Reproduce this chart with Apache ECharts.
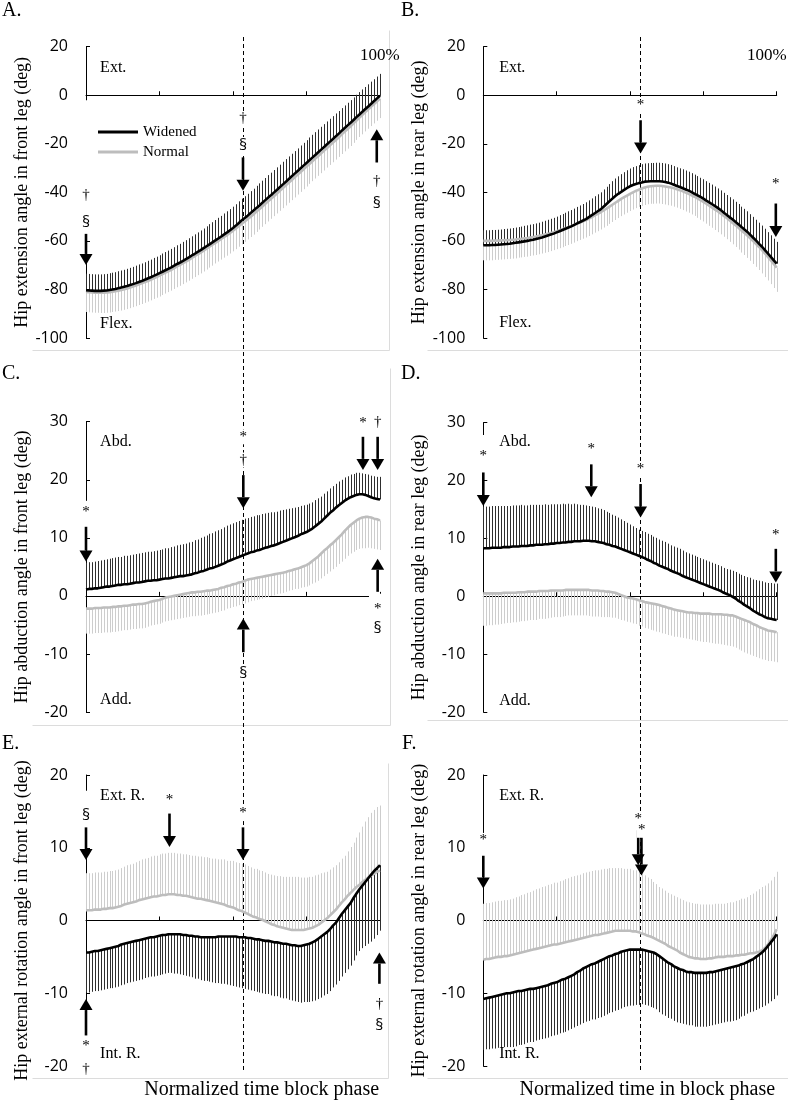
<!DOCTYPE html>
<html><head><meta charset="utf-8">
<script src="https://cdn.jsdelivr.net/npm/echarts@6/dist/echarts.min.js"></script>
<style>html,body{margin:0;padding:0;background:#fff}#c{width:788px;height:1101px}</style>
</head><body><div id="c"></div>
<script>
// ---------- DATA (normalized time 0..100 %, one value per 1 %) ----------
const phasePct = Array.from({length: 101}, (_, i) => i);
const legendNames = ['Widened', 'Normal'];
const panelLetters = ['A.', 'B.', 'C.', 'D.', 'E.', 'F.'];
const yNames = [
  'Hip extension angle in front leg (deg)',
  'Hip extension angle in rear leg (deg)',
  'Hip abduction angle in front leg (deg)',
  'Hip abduction angle in rear leg (deg)',
  'Hip external rotation angle in front leg (deg)',
  'Hip external rotation angle in rear leg (deg)'
];
const xTitles = ['Normalized time block phase', 'Normalized time in block phase'];

// A. hip extension, front leg
const A_widened = [-80.3,-80.4,-80.5,-80.6,-80.6,-80.6,-80.5,-80.4,-80.2,-80.0,
 -79.8,-79.5,-79.2,-78.9,-78.6,-78.2,-77.8,-77.4,-76.9,-76.5,
 -76.0,-75.5,-75.0,-74.4,-73.9,-73.3,-72.7,-72.1,-71.5,-70.9,
 -70.2,-69.5,-68.9,-68.2,-67.5,-66.8,-66.0,-65.3,-64.5,-63.8,
 -63.0,-62.2,-61.4,-60.6,-59.8,-59.0,-58.2,-57.3,-56.5,-55.6,
 -54.7,-53.7,-52.6,-51.5,-50.6,-49.6,-48.5,-47.5,-46.4,-45.4,
 -44.3,-43.2,-42.1,-41.1,-40.0,-38.9,-37.8,-36.7,-35.6,-34.5,
 -33.4,-32.3,-31.2,-30.1,-29.0,-27.9,-26.8,-25.7,-24.6,-23.5,
 -22.4,-21.3,-20.2,-19.1,-18.0,-16.9,-15.8,-14.6,-13.5,-12.4,
 -11.3,-10.2,-9.0,-7.9,-6.8,-5.7,-4.6,-3.5,-2.4,-1.3,
 -0.2];
const A_normal = [-81.0,-81.1,-81.2,-81.3,-81.3,-81.3,-81.3,-81.2,-81.1,-80.9,
 -80.7,-80.5,-80.2,-79.9,-79.6,-79.2,-78.8,-78.4,-77.9,-77.5,
 -77.0,-76.5,-76.0,-75.4,-74.9,-74.3,-73.7,-73.1,-72.5,-71.9,
 -71.2,-70.5,-69.9,-69.2,-68.5,-67.8,-67.0,-66.3,-65.5,-64.8,
 -64.0,-63.2,-62.4,-61.6,-60.8,-60.0,-59.2,-58.4,-57.6,-56.7,
 -55.8,-54.9,-53.9,-52.9,-52.0,-51.0,-50.0,-49.0,-47.9,-46.9,
 -45.8,-44.7,-43.6,-42.6,-41.5,-40.4,-39.3,-38.2,-37.1,-36.0,
 -34.9,-33.8,-32.7,-31.6,-30.5,-29.4,-28.3,-27.2,-26.1,-25.0,
 -23.9,-22.8,-21.7,-20.6,-19.5,-18.4,-17.3,-16.1,-15.0,-13.9,
 -12.8,-11.6,-10.4,-9.2,-8.1,-6.9,-5.8,-4.7,-3.6,-2.5,
 -1.4];
const A_widenedSD = [6.8,6.8,6.8,6.8,6.8,6.8,6.8,6.8,6.9,6.9,
 6.9,7.0,7.0,7.0,7.1,7.1,7.1,7.2,7.2,7.2,
 7.2,7.3,7.3,7.4,7.4,7.4,7.5,7.5,7.5,7.6,
 7.6,7.7,7.7,7.8,7.8,7.9,7.9,8.0,8.0,8.1,
 8.1,8.2,8.3,8.3,8.4,8.5,8.5,8.6,8.7,8.7,
 8.8,8.8,8.9,8.9,9.0,9.0,9.0,9.0,9.1,9.1,
 9.1,9.1,9.2,9.2,9.2,9.2,9.2,9.3,9.3,9.3,
 9.3,9.3,9.3,9.4,9.4,9.4,9.4,9.4,9.4,9.4,
 9.4,9.4,9.4,9.4,9.4,9.4,9.3,9.3,9.3,9.3,
 9.3,9.3,9.2,9.2,9.2,9.1,9.1,9.1,9.0,9.0,
 9.0];
const A_normalSD = [8.3,8.3,8.3,8.3,8.3,8.4,8.4,8.4,8.4,8.4,
 8.4,8.4,8.5,8.5,8.5,8.5,8.5,8.5,8.5,8.5,
 8.5,8.5,8.5,8.5,8.5,8.6,8.6,8.6,8.6,8.6,
 8.6,8.6,8.6,8.6,8.6,8.6,8.6,8.6,8.6,8.6,
 8.6,8.6,8.6,8.6,8.5,8.5,8.5,8.5,8.5,8.5,
 8.5,8.5,8.5,8.5,8.4,8.4,8.4,8.4,8.4,8.4,
 8.4,8.4,8.4,8.3,8.3,8.3,8.3,8.3,8.3,8.3,
 8.3,8.3,8.2,8.2,8.2,8.2,8.2,8.2,8.2,8.2,
 8.2,8.2,8.1,8.1,8.1,8.1,8.1,8.1,8.1,8.1,
 8.1,8.0,8.0,8.0,8.0,8.0,8.0,8.0,8.0,8.0,
 8.0];

// B. hip extension, rear leg
const B_widened = [-61.8,-61.8,-61.8,-61.7,-61.7,-61.6,-61.5,-61.4,-61.3,-61.2,
 -61.0,-60.8,-60.6,-60.4,-60.2,-60.0,-59.7,-59.5,-59.2,-58.9,
 -58.6,-58.2,-57.8,-57.4,-57.0,-56.5,-56.0,-55.5,-55.0,-54.5,
 -54.0,-53.4,-52.8,-52.2,-51.6,-51.0,-50.2,-49.4,-48.6,-47.8,
 -47.0,-45.9,-44.8,-43.7,-42.6,-41.5,-40.6,-39.8,-39.0,-38.2,
 -37.5,-37.0,-36.6,-36.2,-35.9,-35.6,-35.5,-35.4,-35.4,-35.4,
 -35.4,-35.5,-35.7,-36.0,-36.4,-36.9,-37.4,-37.8,-38.3,-38.8,
 -39.3,-39.9,-40.6,-41.2,-41.9,-42.6,-43.4,-44.1,-44.9,-45.7,
 -46.5,-47.4,-48.4,-49.3,-50.3,-51.2,-52.2,-53.2,-54.3,-55.3,
 -56.3,-57.5,-58.7,-59.9,-61.2,-62.4,-63.8,-65.2,-66.6,-68.0,
 -69.4];
const B_normal = [-60.0,-60.0,-60.0,-60.0,-59.9,-59.9,-59.8,-59.7,-59.7,-59.6,
 -59.5,-59.4,-59.2,-59.1,-58.9,-58.8,-58.6,-58.4,-58.2,-57.9,
 -57.7,-57.4,-57.1,-56.7,-56.4,-56.0,-55.6,-55.2,-54.8,-54.4,
 -53.9,-53.4,-52.9,-52.4,-51.9,-51.4,-50.8,-50.2,-49.5,-48.9,
 -48.2,-47.4,-46.7,-45.9,-45.1,-44.3,-43.5,-42.7,-42.0,-41.3,
 -40.6,-40.0,-39.4,-38.9,-38.4,-38.0,-37.7,-37.5,-37.4,-37.3,
 -37.3,-37.4,-37.6,-37.8,-38.0,-38.3,-38.7,-39.1,-39.6,-40.1,
 -40.6,-41.2,-41.8,-42.5,-43.2,-43.9,-44.7,-45.5,-46.3,-47.1,
 -47.9,-48.8,-49.7,-50.6,-51.6,-52.6,-53.6,-54.6,-55.7,-56.7,
 -57.8,-58.9,-60.1,-61.3,-62.5,-63.8,-65.2,-66.6,-68.0,-69.5,
 -71.0];
const B_widenedSD = [6.2,6.2,6.2,6.2,6.2,6.2,6.2,6.3,6.3,6.3,
 6.3,6.3,6.3,6.3,6.4,6.4,6.4,6.4,6.4,6.4,
 6.5,6.5,6.5,6.5,6.5,6.5,6.6,6.6,6.6,6.7,
 6.7,6.7,6.8,6.8,6.8,6.9,6.9,6.9,7.0,7.0,
 7.0,7.1,7.1,7.1,7.2,7.2,7.2,7.3,7.3,7.3,
 7.3,7.4,7.4,7.4,7.5,7.5,7.5,7.5,7.5,7.6,
 7.6,7.6,7.6,7.6,7.7,7.7,7.7,7.7,7.8,7.8,
 7.8,7.8,7.9,7.9,7.9,8.0,8.0,8.0,8.1,8.1,
 8.1,8.2,8.2,8.2,8.3,8.3,8.3,8.4,8.4,8.5,
 8.5,8.5,8.6,8.6,8.7,8.7,8.8,8.8,8.9,8.9,
 9.0];
const B_normalSD = [8.0,8.0,8.0,8.0,7.9,7.9,7.9,7.9,7.8,7.8,
 7.8,7.8,7.7,7.7,7.7,7.7,7.6,7.6,7.6,7.6,
 7.5,7.5,7.5,7.5,7.4,7.4,7.4,7.4,7.3,7.3,
 7.3,7.3,7.2,7.2,7.2,7.2,7.2,7.1,7.1,7.1,
 7.1,7.1,7.1,7.1,7.1,7.1,7.1,7.1,7.1,7.1,
 7.1,7.1,7.1,7.1,7.2,7.2,7.2,7.2,7.3,7.3,
 7.3,7.4,7.4,7.5,7.5,7.6,7.6,7.7,7.7,7.8,
 7.8,7.9,7.9,8.0,8.1,8.1,8.2,8.3,8.3,8.4,
 8.5,8.5,8.6,8.7,8.8,8.8,8.9,9.0,9.1,9.1,
 9.2,9.3,9.4,9.4,9.5,9.6,9.7,9.7,9.8,9.9,
 10.0];

// C. hip abduction, front leg
const C_widened = [1.1,1.2,1.2,1.3,1.3,1.4,1.5,1.6,1.6,1.7,
 1.8,1.9,1.9,2.0,2.0,2.1,2.2,2.3,2.3,2.4,
 2.5,2.6,2.6,2.7,2.7,2.8,2.9,3.0,3.0,3.1,
 3.2,3.3,3.4,3.4,3.5,3.6,3.7,3.9,4.0,4.2,
 4.3,4.5,4.7,4.8,5.0,5.2,5.4,5.6,5.9,6.1,
 6.3,6.5,6.7,6.9,7.1,7.3,7.5,7.6,7.8,7.9,
 8.1,8.3,8.4,8.6,8.7,8.9,9.1,9.3,9.5,9.7,
 9.9,10.1,10.3,10.6,10.8,11.0,11.3,11.6,12.0,12.4,
 12.8,13.3,13.8,14.3,14.7,15.2,15.6,16.0,16.4,16.7,
 17.0,17.2,17.4,17.5,17.5,17.4,17.2,17.0,16.8,16.7,
 16.6];
const C_normal = [-2.2,-2.2,-2.2,-2.1,-2.1,-2.1,-2.0,-2.0,-2.0,-1.9,
 -1.9,-1.8,-1.8,-1.7,-1.7,-1.6,-1.5,-1.5,-1.4,-1.4,
 -1.3,-1.2,-1.0,-0.9,-0.8,-0.7,-0.5,-0.3,-0.2,-0.1,
 0.0,0.1,0.2,0.3,0.4,0.5,0.6,0.6,0.7,0.7,
 0.8,0.9,0.9,1.0,1.1,1.2,1.4,1.5,1.7,1.8,
 2.0,2.1,2.3,2.4,2.6,2.8,2.9,3.0,3.1,3.2,
 3.3,3.4,3.5,3.6,3.7,3.8,3.9,4.0,4.1,4.3,
 4.4,4.6,4.7,4.9,5.1,5.3,5.6,6.0,6.4,6.8,
 7.3,7.8,8.2,8.7,9.1,9.6,10.1,10.6,11.2,11.7,
 12.2,12.6,13.0,13.3,13.5,13.6,13.6,13.5,13.3,13.2,
 13.0];
const C_widenedSD = [4.6,4.6,4.6,4.6,4.7,4.7,4.7,4.7,4.8,4.8,
 4.8,4.8,4.8,4.9,4.9,4.9,4.9,4.9,5.0,5.0,
 5.0,5.0,5.0,5.0,5.1,5.1,5.1,5.2,5.2,5.3,
 5.3,5.4,5.4,5.5,5.5,5.6,5.6,5.7,5.7,5.8,
 5.9,5.9,6.0,6.0,6.1,6.1,6.1,6.2,6.2,6.2,
 6.2,6.2,6.2,6.2,6.2,6.1,6.1,6.1,6.1,6.0,
 6.0,5.9,5.9,5.8,5.7,5.6,5.6,5.5,5.4,5.3,
 5.2,5.1,5.0,4.9,4.8,4.7,4.6,4.5,4.5,4.4,
 4.3,4.3,4.2,4.2,4.2,4.1,4.1,4.0,4.0,3.9,
 3.9,3.8,3.8,3.7,3.6,3.6,3.7,3.7,3.8,3.8,
 3.9];
const C_normalSD = [4.3,4.3,4.3,4.3,4.3,4.3,4.3,4.3,4.3,4.3,
 4.3,4.3,4.2,4.2,4.2,4.2,4.2,4.2,4.2,4.2,
 4.2,4.1,4.1,4.1,4.1,4.1,4.1,4.1,4.1,4.1,
 4.1,4.1,4.1,4.1,4.1,4.1,4.1,4.1,4.1,4.1,
 4.1,4.1,4.0,4.0,4.0,4.0,4.0,4.0,3.9,3.9,
 3.9,3.9,3.9,3.9,3.9,3.9,3.8,3.8,3.8,3.8,
 3.8,3.7,3.7,3.6,3.6,3.5,3.5,3.5,3.4,3.4,
 3.4,3.4,3.5,3.5,3.6,3.7,3.8,3.9,4.1,4.2,
 4.3,4.4,4.4,4.5,4.5,4.6,4.6,4.7,4.8,4.8,
 4.9,5.0,5.1,5.2,5.3,5.4,5.3,5.3,5.2,5.2,
 5.1];

// D. hip abduction, rear leg
const D_widened = [8.3,8.3,8.3,8.4,8.4,8.4,8.4,8.5,8.5,8.5,
 8.6,8.6,8.6,8.7,8.7,8.7,8.8,8.8,8.9,8.9,
 8.9,9.0,9.0,9.1,9.1,9.2,9.2,9.3,9.3,9.4,
 9.4,9.5,9.5,9.5,9.6,9.6,9.6,9.5,9.5,9.4,
 9.3,9.2,9.0,8.9,8.7,8.6,8.4,8.2,8.0,7.8,
 7.6,7.4,7.2,7.0,6.8,6.6,6.3,6.1,5.8,5.6,
 5.3,5.1,4.9,4.7,4.4,4.2,4.0,3.8,3.5,3.3,
 3.1,2.9,2.7,2.5,2.3,2.1,1.9,1.7,1.5,1.3,
 1.1,0.9,0.6,0.4,0.2,-0.1,-0.4,-0.8,-1.1,-1.5,
 -1.8,-2.1,-2.5,-2.8,-3.1,-3.3,-3.6,-3.8,-3.9,-4.0,
 -4.1];
const D_normal = [0.5,0.5,0.5,0.5,0.5,0.5,0.5,0.6,0.6,0.6,
 0.6,0.6,0.7,0.7,0.7,0.8,0.8,0.8,0.8,0.9,
 0.9,0.9,0.9,1.0,1.0,1.0,1.0,1.0,1.1,1.1,
 1.1,1.1,1.1,1.1,1.1,1.1,1.1,1.0,1.0,1.0,
 0.9,0.9,0.8,0.8,0.7,0.6,0.4,0.2,0.0,-0.2,
 -0.3,-0.4,-0.5,-0.7,-0.8,-1.0,-1.1,-1.2,-1.3,-1.4,
 -1.5,-1.7,-1.8,-2.0,-2.1,-2.3,-2.4,-2.5,-2.6,-2.7,
 -2.8,-2.8,-2.9,-2.9,-3.0,-3.0,-3.0,-3.0,-3.1,-3.1,
 -3.1,-3.1,-3.2,-3.2,-3.3,-3.3,-3.5,-3.7,-3.9,-4.1,
 -4.3,-4.5,-4.8,-5.0,-5.3,-5.5,-5.7,-5.9,-6.0,-6.1,
 -6.2];
const D_widenedSD = [7.2,7.2,7.2,7.2,7.2,7.2,7.2,7.1,7.1,7.1,
 7.1,7.1,7.1,7.1,7.0,7.0,7.0,7.0,6.9,6.9,
 6.9,6.9,6.8,6.8,6.8,6.7,6.7,6.7,6.6,6.6,
 6.5,6.5,6.4,6.3,6.2,6.1,6.0,6.0,5.9,5.8,
 5.8,5.7,5.6,5.5,5.4,5.3,5.2,5.1,5.0,4.9,
 4.8,4.7,4.6,4.5,4.5,4.5,4.5,4.5,4.5,4.5,
 4.5,4.5,4.5,4.4,4.4,4.4,4.4,4.4,4.4,4.3,
 4.3,4.3,4.3,4.3,4.3,4.3,4.3,4.3,4.3,4.3,
 4.3,4.3,4.3,4.3,4.4,4.5,4.6,4.7,4.8,5.0,
 5.1,5.3,5.4,5.6,5.8,5.9,6.0,6.1,6.2,6.2,
 6.3];
const D_normalSD = [5.6,5.6,5.5,5.5,5.4,5.4,5.3,5.3,5.2,5.2,
 5.1,5.1,5.1,5.0,5.0,5.0,4.9,4.9,4.9,4.8,
 4.8,4.8,4.7,4.7,4.6,4.6,4.6,4.5,4.5,4.4,
 4.4,4.4,4.4,4.4,4.4,4.4,4.5,4.5,4.5,4.5,
 4.5,4.5,4.4,4.4,4.4,4.3,4.3,4.3,4.2,4.2,
 4.2,4.3,4.3,4.4,4.4,4.5,4.5,4.6,4.6,4.7,
 4.7,4.7,4.7,4.7,4.7,4.7,4.6,4.6,4.6,4.6,
 4.6,4.7,4.7,4.8,4.8,4.9,4.9,5.0,5.0,5.1,
 5.1,5.2,5.2,5.3,5.3,5.4,5.4,5.5,5.5,5.6,
 5.6,5.6,5.5,5.5,5.4,5.4,5.3,5.3,5.2,5.2,
 5.2];

// E. hip external rotation, front leg
const E_widened = [-4.4,-4.4,-4.3,-4.2,-4.2,-4.1,-4.0,-3.9,-3.8,-3.7,
 -3.6,-3.5,-3.3,-3.2,-3.1,-3.0,-2.9,-2.8,-2.7,-2.6,
 -2.5,-2.4,-2.3,-2.3,-2.2,-2.1,-2.0,-2.0,-1.9,-1.9,
 -1.9,-1.9,-1.9,-2.0,-2.0,-2.1,-2.1,-2.2,-2.2,-2.3,
 -2.3,-2.3,-2.3,-2.3,-2.3,-2.2,-2.2,-2.2,-2.2,-2.2,
 -2.2,-2.2,-2.3,-2.3,-2.3,-2.4,-2.4,-2.5,-2.6,-2.6,
 -2.7,-2.8,-2.8,-2.9,-3.0,-3.0,-3.1,-3.2,-3.2,-3.3,
 -3.4,-3.4,-3.5,-3.5,-3.4,-3.3,-3.2,-3.0,-2.8,-2.5,
 -2.2,-1.9,-1.6,-1.2,-0.7,-0.3,0.3,0.9,1.4,1.9,
 2.4,3.1,3.7,4.3,4.8,5.3,5.8,6.3,6.8,7.2,
 7.6];
const E_normal = [1.4,1.4,1.4,1.5,1.5,1.5,1.6,1.6,1.7,1.7,
 1.8,1.9,2.0,2.2,2.3,2.4,2.5,2.6,2.8,2.9,
 3.0,3.1,3.2,3.3,3.3,3.4,3.5,3.5,3.6,3.6,
 3.6,3.5,3.5,3.4,3.4,3.3,3.2,3.1,3.0,3.0,
 2.9,2.8,2.7,2.6,2.5,2.4,2.3,2.2,2.0,1.9,
 1.8,1.6,1.4,1.3,1.1,0.9,0.7,0.5,0.4,0.2,
 0.1,-0.1,-0.3,-0.5,-0.6,-0.8,-0.9,-1.0,-1.1,-1.2,
 -1.3,-1.3,-1.3,-1.3,-1.3,-1.2,-1.1,-1.0,-0.8,-0.6,
 -0.3,0.0,0.3,0.7,1.1,1.5,2.0,2.5,2.9,3.4,
 3.8,4.2,4.6,4.9,5.3,5.6,5.9,6.2,6.4,6.7,
 6.9];
const E_widenedSD = [5.5,5.5,5.5,5.5,5.5,5.5,5.5,5.5,5.5,5.6,
 5.6,5.6,5.6,5.6,5.5,5.5,5.5,5.5,5.5,5.5,
 5.4,5.4,5.4,5.4,5.4,5.4,5.4,5.3,5.3,5.3,
 5.4,5.4,5.5,5.5,5.6,5.6,5.7,5.8,5.8,5.9,
 6.0,6.0,6.1,6.2,6.3,6.4,6.5,6.5,6.6,6.7,
 6.8,6.9,6.9,7.0,7.1,7.1,7.2,7.2,7.2,7.3,
 7.3,7.3,7.3,7.4,7.4,7.4,7.5,7.5,7.5,7.6,
 7.6,7.7,7.7,7.8,7.8,7.9,8.0,8.1,8.2,8.3,
 8.4,8.4,8.5,8.5,8.5,8.5,8.6,8.6,8.6,8.6,
 8.6,8.6,8.5,8.5,8.6,8.8,9.0,9.2,9.3,9.2,
 9.0];
const E_normalSD = [5.1,5.1,5.1,5.1,5.1,5.1,5.1,5.1,5.1,5.1,
 5.1,5.1,5.2,5.2,5.3,5.3,5.3,5.4,5.4,5.5,
 5.5,5.5,5.6,5.6,5.6,5.7,5.7,5.7,5.7,5.7,
 5.7,5.7,5.7,5.7,5.7,5.7,5.7,5.8,5.8,5.8,
 5.8,5.9,5.9,5.9,6.0,6.0,6.1,6.2,6.2,6.3,
 6.4,6.4,6.5,6.5,6.6,6.6,6.6,6.6,6.7,6.7,
 6.7,6.7,6.7,6.8,6.8,6.9,7.0,7.0,7.1,7.2,
 7.3,7.3,7.3,7.2,7.2,7.1,7.1,7.0,7.0,6.9,
 6.8,6.6,6.4,6.3,6.2,6.1,6.0,6.0,6.0,6.1,
 6.3,6.5,6.8,7.2,7.6,8.0,8.3,8.6,8.8,8.9,
 8.9];

// F. hip external rotation, rear leg
const F_widened = [-10.8,-10.7,-10.6,-10.5,-10.4,-10.3,-10.2,-10.1,-10.0,-10.0,
 -9.9,-9.8,-9.7,-9.7,-9.6,-9.5,-9.4,-9.4,-9.3,-9.2,
 -9.1,-9.0,-8.9,-8.7,-8.6,-8.5,-8.3,-8.1,-8.0,-7.8,
 -7.6,-7.4,-7.1,-6.9,-6.6,-6.4,-6.2,-6.0,-5.9,-5.7,
 -5.5,-5.3,-5.1,-4.9,-4.8,-4.6,-4.5,-4.3,-4.2,-4.1,
 -4.0,-4.0,-4.0,-4.0,-4.0,-4.1,-4.2,-4.3,-4.4,-4.6,
 -4.9,-5.2,-5.5,-5.8,-6.0,-6.3,-6.5,-6.7,-6.8,-7.0,
 -7.1,-7.1,-7.2,-7.2,-7.2,-7.2,-7.2,-7.1,-7.1,-7.0,
 -6.9,-6.8,-6.7,-6.6,-6.5,-6.4,-6.3,-6.2,-6.0,-5.9,
 -5.7,-5.5,-5.3,-5.0,-4.7,-4.4,-4.0,-3.5,-3.0,-2.5,
 -1.9];
const F_normal = [-5.4,-5.3,-5.3,-5.2,-5.1,-5.0,-5.0,-4.9,-4.9,-4.8,
 -4.7,-4.6,-4.5,-4.4,-4.3,-4.2,-4.1,-4.0,-3.9,-3.8,
 -3.7,-3.6,-3.5,-3.4,-3.3,-3.3,-3.2,-3.1,-3.0,-2.9,
 -2.8,-2.7,-2.6,-2.5,-2.4,-2.3,-2.2,-2.1,-2.0,-2.0,
 -1.9,-1.8,-1.7,-1.6,-1.5,-1.4,-1.4,-1.4,-1.4,-1.4,
 -1.4,-1.5,-1.5,-1.6,-1.8,-1.9,-2.1,-2.2,-2.4,-2.6,
 -2.8,-3.0,-3.2,-3.5,-3.7,-3.9,-4.1,-4.4,-4.6,-4.8,
 -5.0,-5.1,-5.2,-5.2,-5.3,-5.3,-5.3,-5.2,-5.2,-5.1,
 -5.0,-5.0,-5.0,-4.9,-4.9,-4.9,-4.8,-4.8,-4.7,-4.7,
 -4.6,-4.5,-4.5,-4.4,-4.3,-4.1,-3.8,-3.3,-2.7,-2.0,
 -1.2];
const F_widenedSD = [7.0,7.0,7.1,7.1,7.2,7.2,7.3,7.3,7.4,7.4,
 7.5,7.5,7.4,7.4,7.4,7.3,7.3,7.3,7.2,7.2,
 7.2,7.2,7.2,7.2,7.2,7.2,7.2,7.3,7.3,7.3,
 7.3,7.3,7.4,7.4,7.5,7.5,7.6,7.6,7.7,7.7,
 7.8,7.8,7.8,7.8,7.8,7.8,7.8,7.8,7.7,7.7,
 7.7,7.7,7.6,7.6,7.5,7.5,7.5,7.6,7.6,7.6,
 7.7,7.7,7.6,7.6,7.5,7.5,7.5,7.4,7.4,7.3,
 7.3,7.3,7.4,7.4,7.4,7.4,7.4,7.4,7.3,7.3,
 7.3,7.3,7.3,7.3,7.4,7.4,7.4,7.3,7.2,7.2,
 7.1,7.1,7.2,7.3,7.4,7.5,7.7,7.9,8.1,8.3,
 8.4];
const F_normalSD = [7.7,7.7,7.7,7.7,7.7,7.7,7.7,7.7,7.7,7.7,
 7.7,7.8,7.8,7.9,7.9,8.0,8.0,8.1,8.2,8.2,
 8.3,8.3,8.4,8.4,8.5,8.5,8.6,8.6,8.7,8.7,
 8.8,8.8,8.8,8.8,8.9,8.9,8.9,8.9,8.9,8.9,
 8.9,8.9,8.8,8.8,8.7,8.6,8.6,8.6,8.5,8.5,
 8.5,8.4,8.4,8.3,8.2,8.1,8.0,7.9,7.7,7.6,
 7.4,7.4,7.3,7.3,7.3,7.3,7.3,7.4,7.4,7.4,
 7.5,7.5,7.5,7.5,7.5,7.5,7.5,7.4,7.4,7.4,
 7.3,7.3,7.3,7.3,7.4,7.4,7.5,7.6,7.7,7.7,
 7.8,8.0,8.2,8.4,8.6,8.7,8.6,8.4,8.2,8.0,
 7.9];

// significance annotations: arrows [x%, tail, tip], symbols [x%, y, text], notes [x%, y, text]
const A_arrows = [[0, -57.1, -69.9], [53.4, -25.6, -39.3], [98.9, -27.7, -14.0]];
const A_symbols = [[0, -41.0, '†'], [0, -52.3, '§'], [53.4, -9.6, '†'], [53.4, -20.5, '§'], [98.9, -35.2, '†'], [98.9, -44.6, '§']];
const A_notes = [[4.8, 11.2, 'Ext.'], [4.8, -94.2, 'Flex.'], [93.2, 16.2, '100%']];
const B_arrows = [[53.6, -10.3, -24.0], [99.7, -44.6, -58.4]];
const B_symbols = [[53.6, -4.1, '*'], [99.7, -36.4, '*']];
const B_notes = [[5.4, 11.2, 'Ext.'], [5.4, -93.8, 'Flex.'], [89.9, 16.5, '100%']];
const C_arrows = [[0, 11.9, 5.9], [53.5, 20.8, 15.1], [94.2, 27.4, 21.7], [99.2, 27.4, 21.7], [53.5, -9.7, -3.9], [99.2, 0.7, 6.4]];
const C_symbols = [[0, 14.5, '*'], [53.5, 27.4, '*'], [53.5, 23.4, '†'], [94.2, 29.7, '*'], [99.2, 29.9, '†'], [53.5, -13.4, '§'], [99.2, -2.2, '*'], [99.2, -5.6, '§']];
const C_notes = [[4.8, 26.5, 'Abd.'], [4.8, -17.9, 'Add.']];
const D_arrows = [[0, 21.4, 15.6], [36.8, 22.8, 17.1], [53.6, 19.4, 13.6], [99.7, 8.2, 2.4]];
const D_symbols = [[0, 24.3, '*'], [36.8, 25.4, '*'], [53.6, 22.0, '*'], [99.7, 10.5, '*']];
const D_notes = [[5.4, 26.7, 'Abd.'], [5.4, -18.1, 'Add.']];
const E_arrows = [[0, 12.8, 8.3], [28.4, 14.7, 10.1], [53.4, 12.8, 8.3], [0, -15.8, -10.8], [99.8, -8.7, -4.4]];
const E_symbols = [[0, 14.4, '§'], [28.4, 16.5, '*'], [53.4, 14.7, '*'], [0, -17.2, '*'], [0, -20.4, '†'], [99.8, -11.5, '†'], [99.8, -14.4, '§']];
const E_notes = [[4.8, 17.1, 'Ext. R.'], [4.8, -18.3, 'Int. R.']];
const F_arrows = [[0, 8.9, 4.4], [52.8, 12.4, 7.6], [53.9, 11.9, 6.2]];
const F_symbols = [[0, 11.0, '*'], [52.8, 13.9, '*'], [54.0, 12.4, '*']];
const F_notes = [[5.4, 17.1, 'Ext. R.'], [5.4, -18.3, 'Int. R.']];
// axis segments hidden behind annotation boxes: [x%, yTop, yBottom, widthPx]
const A_masks = [[0, -2.5, -57.1, 10]];
const B_masks = [];
const C_masks = [[0, 16.2, 11.9, 10], [98.3, 0.2, -0.2, 12]];
const D_masks = [[0, 27.7, 21.4, 10]];
const E_masks = [[0, 17.7, 12.8, 10], [0, -15.8, -20.6, 10]];
const F_masks = [[0, 11.9, 8.9, 10]];

const dashedPhase = 53.5;

// ---------- CHART ----------
const panels = [
  {W: A_widened, N: A_normal, sW: A_widenedSD, sN: A_normalSD, dW: 1, dN: -1, min: -100, max: 20, step: 20, arrows: A_arrows, symbols: A_symbols, notes: A_notes, masks: A_masks},
  {W: B_widened, N: B_normal, sW: B_widenedSD, sN: B_normalSD, dW: 1, dN: -1, min: -100, max: 20, step: 20, arrows: B_arrows, symbols: B_symbols, notes: B_notes, masks: B_masks},
  {W: C_widened, N: C_normal, sW: C_widenedSD, sN: C_normalSD, dW: 1, dN: -1, min: -20, max: 30, step: 10, arrows: C_arrows, symbols: C_symbols, notes: C_notes, masks: C_masks},
  {W: D_widened, N: D_normal, sW: D_widenedSD, sN: D_normalSD, dW: 1, dN: -1, min: -20, max: 30, step: 10, arrows: D_arrows, symbols: D_symbols, notes: D_notes, masks: D_masks},
  {W: E_widened, N: E_normal, sW: E_widenedSD, sN: E_normalSD, dW: -1, dN: 1, min: -20, max: 20, step: 10, arrows: E_arrows, symbols: E_symbols, notes: E_notes, masks: E_masks},
  {W: F_widened, N: F_normal, sW: F_widenedSD, sN: F_normalSD, dW: -1, dN: 1, min: -20, max: 20, step: 10, arrows: F_arrows, symbols: F_symbols, notes: F_notes, masks: F_masks}
];
const layout = [
  {left: 86, top: 46.7, width: 294, height: 291.3},
  {left: 483.3, top: 46.7, width: 293.4, height: 291.3},
  {left: 86, top: 421.7, width: 294, height: 290.3},
  {left: 483.3, top: 422.7, width: 293.4, height: 289.3},
  {left: 86, top: 775, width: 294, height: 291},
  {left: 483.3, top: 775, width: 293.4, height: 291}
];

const SERIF = '"Liberation Serif", "Times New Roman", serif';
const SANS = '"Open Sans", "Liberation Sans", sans-serif';
const BLACK_BAR = '#2e2e2e', GRAY_BAR = '#cdcdcd', BLACK_LINE = '#000000', GRAY_LINE = '#bdbdbd';

function barRenderer(color) {
  return function (params, api) {
    const a = api.coord([api.value(0), api.value(1)]);
    const b = api.coord([api.value(0), api.value(2)]);
    const x = Math.round(a[0]) + 0.5;
    return {type: 'line', silent: true, shape: {x1: x, y1: a[1], x2: x, y2: b[1]}, style: {stroke: color, lineWidth: 1}};
  };
}

function decorRenderer(p) {
  return function (params, api) {
    const ch = [];
    p.masks.forEach(m => {
      const a = api.coord([m[0], m[1]]), b = api.coord([m[0], m[2]]);
      ch.push({type: 'rect', shape: {x: a[0] - m[3] / 2, y: a[1] - 1, width: m[3], height: b[1] - a[1] + 2}, style: {fill: '#fff'}});
    });
    p.arrows.forEach(ar => {
      const t = api.coord([ar[0], ar[1]]), h = api.coord([ar[0], ar[2]]);
      const dir = h[1] > t[1] ? 1 : -1;
      const hl = 11, hw = 6.5;
      const base = h[1] - dir * hl;
      ch.push({type: 'line', shape: {x1: t[0], y1: t[1], x2: t[0], y2: base}, style: {stroke: '#000', lineWidth: 2.6}});
      ch.push({type: 'polygon', shape: {points: [[h[0] - hw, base], [h[0] + hw, base], [h[0], h[1]]]}, style: {fill: '#000'}});
    });
    p.symbols.forEach(s => {
      const a = api.coord([s[0], s[1]]);
      const isSec = s[2] === '§';
      ch.push({type: 'text', x: a[0], y: a[1], style: {text: s[2], fill: '#000', font: isSec ? ('16px ' + SANS) : ('15px ' + SERIF), align: 'center', verticalAlign: 'middle', backgroundColor: '#fff', padding: [0, 1]}});
    });
    p.notes.forEach(n => {
      const a = api.coord([n[0], n[1]]);
      const big = n[2] === '100%';
      ch.push({type: 'text', x: a[0], y: a[1], style: {text: n[2], fill: '#000', font: (big ? '17px ' : '16px ') + SERIF, align: 'left', verticalAlign: 'middle'}});
    });
    return {type: 'group', children: ch};
  };
}

const grid = [], xAxis = [], yAxis = [], series = [];
panels.forEach((p, i) => {
  grid.push(Object.assign({containLabel: false}, layout[i]));
  xAxis.push({type: 'value', gridIndex: i, min: 0, max: 100, interval: 25,
    axisLine: {onZero: true, lineStyle: {color: '#000', width: 1}},
    axisTick: {show: true, inside: true, length: 4, lineStyle: {color: '#000'}},
    axisLabel: {show: false}, splitLine: {show: false}});
  yAxis.push({type: 'value', gridIndex: i, min: p.min, max: p.max, interval: p.step,
    name: yNames[i], nameLocation: 'middle', nameGap: 55,
    nameTextStyle: {fontFamily: SERIF, fontSize: 18, color: '#000'},
    axisLine: {show: true, lineStyle: {color: '#000', width: 1}},
    axisTick: {show: true, inside: true, length: 4, lineStyle: {color: '#000'}},
    axisLabel: {fontFamily: SANS, fontSize: 16, color: '#000', margin: 18},
    splitLine: {show: false}});
  series.push({type: 'custom', name: legendNames[1] + ' SD', xAxisIndex: i, yAxisIndex: i, silent: true, z: 2,
    renderItem: barRenderer(GRAY_BAR), encode: {x: 0, y: [1, 2]},
    data: phasePct.map((x, k) => [x, p.N[k], p.N[k] + p.dN * p.sN[k]])});
  series.push({type: 'custom', name: legendNames[0] + ' SD', xAxisIndex: i, yAxisIndex: i, silent: true, z: 2,
    renderItem: barRenderer(BLACK_BAR), encode: {x: 0, y: [1, 2]},
    data: phasePct.map((x, k) => [x, p.W[k], p.W[k] + p.dW * p.sW[k]])});
  series.push({type: 'line', name: legendNames[1], xAxisIndex: i, yAxisIndex: i, z: 3, symbol: 'none', silent: true,
    lineStyle: {color: GRAY_LINE, width: 2.6}, itemStyle: {color: GRAY_LINE},
    data: phasePct.map((x, k) => [x, p.N[k]])});
  series.push({type: 'line', name: legendNames[0], xAxisIndex: i, yAxisIndex: i, z: 4, symbol: 'none', silent: true,
    lineStyle: {color: BLACK_LINE, width: 2.6}, itemStyle: {color: BLACK_LINE},
    data: phasePct.map((x, k) => [x, p.W[k]])});
  series.push({type: 'custom', name: 'annot' + i, xAxisIndex: i, yAxisIndex: i, silent: true, z: 10,
    renderItem: decorRenderer(p), data: [[0, p.min]]});
});

const chart = echarts.init(document.getElementById('c'), null, {renderer: 'canvas', width: 788, height: 1101});
chart.setOption({
  animation: false,
  backgroundColor: '#fff',
  grid, xAxis, yAxis, series,
  legend: {data: legendNames.map(n => ({name: n, icon: 'rect'})), orient: 'vertical', left: 98, top: 124, padding: 0,
    itemWidth: 40, itemHeight: 3, itemGap: 4,
    textStyle: {fontFamily: SERIF, fontSize: 15, lineHeight: 16, color: '#000', padding: [0, 0, 0, 0]}, selectedMode: false}
});

// dashed reference line + decorations
const xl = chart.convertToPixel({gridIndex: 0}, [dashedPhase, 0])[0];
const xr = chart.convertToPixel({gridIndex: 1}, [dashedPhase, 0])[0];
const graphic = [];
[xl, xr].forEach(x => graphic.push({type: 'line', z: 1, silent: true,
  shape: {x1: Math.round(x) + 0.5, y1: 37, x2: Math.round(x) + 0.5, y2: 1072},
  style: {stroke: '#000', lineWidth: 1, lineDash: [4, 3]}}));
const frameColor = '#dcdcdc';
[[32, 350, 389, 350], [389, 30, 389, 350], [32, 725, 390, 725], [390, 368, 390, 725], [32, 1078, 388, 1078], [388, 763, 388, 1078],
 [427, 350, 788, 350], [427, 720, 788, 720], [427, 1078, 788, 1078]].forEach(s => graphic.push({type: 'line', z: 0, silent: true,
  shape: {x1: s[0] + 0.5, y1: s[1] + 0.5, x2: s[2] + 0.5, y2: s[3] + 0.5}, style: {stroke: frameColor, lineWidth: 1}}));
const letterPos = [[2, 11], [401, 11], [2, 374], [401, 374], [2, 744], [402, 744]];
panelLetters.forEach((t, i) => graphic.push({type: 'text', z: 20, x: letterPos[i][0], y: letterPos[i][1],
  style: {text: t, font: '20px ' + SERIF, fill: '#000', align: 'left', verticalAlign: 'middle'}}));
[[261.7, 1090], [647.3, 1090]].forEach((pos, i) => graphic.push({type: 'text', z: 20, x: pos[0], y: pos[1],
  style: {text: xTitles[i], font: '20px ' + SERIF, fill: '#000', align: 'center', verticalAlign: 'middle'}}));
chart.setOption({graphic});
</script></body></html>
